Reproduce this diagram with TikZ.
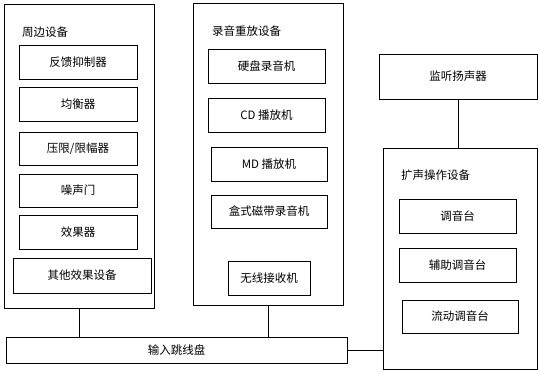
\documentclass[tikz,border=0pt]{standalone}
\usepackage{fontspec}
\setmainfont{Noto Sans CJK SC}
\begin{document}
\begin{tikzpicture}[x=1pt,y=-1pt,
  box/.style={draw,line width=0.9pt,rectangle,inner sep=0pt,font=\fontsize{11.5}{13}\selectfont},
  ttl/.style={anchor=west,inner sep=0pt,font=\fontsize{11.5}{13}\selectfont}]
\useasboundingbox (0,0) rectangle (540,374);
% outer groups
\node[box,minimum width=150,minimum height=304] (periph) at (79,156) {};
\node[box,minimum width=150,minimum height=302] (rec) at (268,154) {};
\node[box,minimum width=154,minimum height=221] (amp) at (460,258.5) {};
\node[box,minimum width=158,minimum height=45] (mon) at (458,76.5) {监听扬声器};
\node[box,minimum width=341,minimum height=26] (input) at (176.5,350) {输入跳线盘};
% titles
\node[ttl] (t1) at (22,32) {周边设备};
\node[ttl] (t2) at (212,31) {录音重放设备};
\node[ttl] (t3) at (401,175) {扩声操作设备};
% peripheral items
\node[box,minimum width=118,minimum height=34] (p1) at (78,62) {反馈抑制器};
\node[box,minimum width=118,minimum height=34] (p2) at (78,104) {均衡器};
\node[box,minimum width=118,minimum height=33] (p3) at (78,148.5) {压限/限幅器};
\node[box,minimum width=118,minimum height=33] (p4) at (78,190.5) {噪声门};
\node[box,minimum width=118,minimum height=34] (p5) at (78,232) {效果器};
\node[box,minimum width=138,minimum height=35] (p6) at (82,275.5) {其他效果设备};
% recording items
\node[box,minimum width=117,minimum height=34] (r1) at (266.5,66) {硬盘录音机};
\node[box,minimum width=117,minimum height=34] (r2) at (266.5,115) {CD 播放机};
\node[box,minimum width=116,minimum height=34] (r3) at (269,164) {MD 播放机};
\node[box,minimum width=116,minimum height=33] (r4) at (269,211.5) {盒式磁带录音机};
\node[box,minimum width=82,minimum height=34] (r5) at (269,278) {无线接收机};
% amp items
\node[box,minimum width=117,minimum height=34] (a1) at (457.5,216) {调音台};
\node[box,minimum width=117,minimum height=34] (a2) at (457.5,265) {辅助调音台};
\node[box,minimum width=116,minimum height=33] (a3) at (460,316.5) {流动调音台};
% connectors
\draw[line width=0.9pt] (periph.south) -- (periph.south |- input.north);
\draw[line width=0.9pt] (rec.south) -- (rec.south |- input.north);
\draw[line width=0.9pt] (mon.south) -- (mon.south |- amp.north);
\draw[line width=0.9pt] (input.east) -- (input.east -| amp.west);
\end{tikzpicture}
\end{document}
